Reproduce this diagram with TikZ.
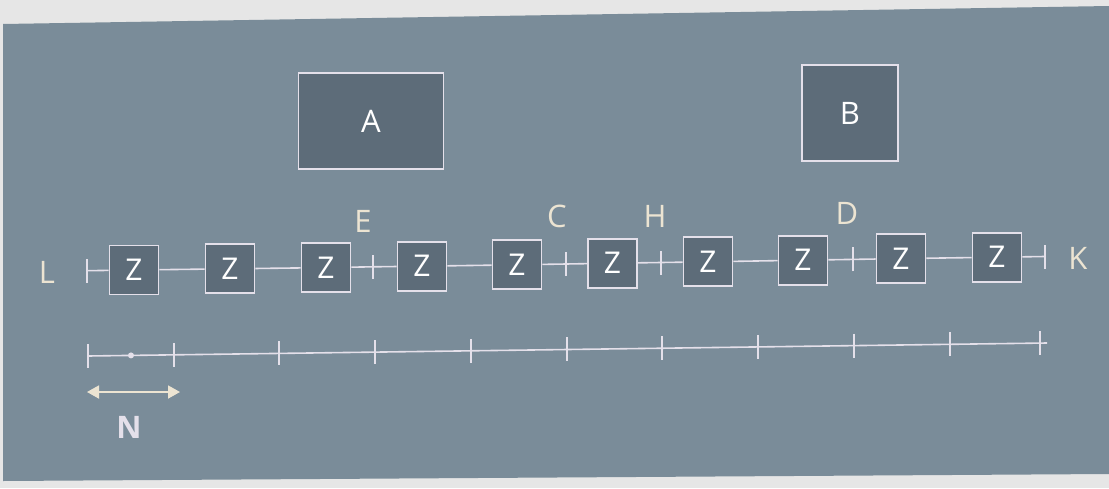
\documentclass[tikz,border=0pt]{standalone}
\usepackage{fontspec}
\setmainfont{Open Sans}
\usetikzlibrary{arrows.meta}
\definecolor{paper}{HTML}{E6E6E6}
\definecolor{panel}{HTML}{7A8C99}
\definecolor{boxfill}{HTML}{5D6C79}
\definecolor{edge}{HTML}{E4E0EA}
\definecolor{lbl}{HTML}{ECE4D2}
\tikzset{
  zbox/.style={draw=edge, line width=1.8pt, fill=boxfill, minimum width=49pt, minimum height=49pt, inner sep=0pt, text=white, font=\fontsize{30}{30}\selectfont},
  bigbox/.style={draw=edge, line width=1.8pt, fill=boxfill, inner sep=0pt, text=white, font=\fontsize{31}{31}\selectfont},
  lab/.style={text=lbl, font=\fontsize{31}{31}\selectfont, inner sep=0pt},
  wire/.style={draw=edge, line width=1.6pt},
  tick/.style={draw=edge, line width=1.6pt},
}
\begin{document}
\begin{tikzpicture}[x=1pt,y=-1pt]
\useasboundingbox (0,0) rectangle (1109,488);
\fill[paper] (0,0) rectangle (1109,488);
\fill[panel] (3,24) -- (1109,6) -- (1109,474) -- (3,481) -- cycle;

% big boxes
\node[bigbox, minimum width=145pt, minimum height=96pt] (A) at (371,121) {A};
\node[bigbox, minimum width=96pt, minimum height=96pt] (B) at (850,113) {B};

% Z chain
\node[zbox] (Z1) at (134,270) {Z};
\node[zbox] (Z2) at (230,268.8) {Z};
\node[zbox] (Z3) at (326,267.6) {Z};
\node[zbox] (Z4) at (422,266.2) {Z};
\node[zbox] (Z5) at (517,264.8) {Z};
\node[zbox] (Z6) at (612.5,263.2) {Z};
\node[zbox] (Z7) at (708,261.8) {Z};
\node[zbox] (Z8) at (803,260.2) {Z};
\node[zbox] (Z9) at (901,258.6) {Z};
\node[zbox] (Z10) at (997,257.2) {Z};

\coordinate (tL) at (87,270.7);
\coordinate (tE) at (373,266.8);
\coordinate (tC) at (566,264.0);
\coordinate (tH) at (661,262.5);
\coordinate (tD) at (853,259.4);
\coordinate (tK) at (1045,256.5);

\draw[wire] (tL) -- (Z1) -- (Z2) -- (Z3) -- (tE) -- (Z4) -- (Z5) -- (tC) -- (Z6) -- (tH) -- (Z7) -- (Z8) -- (tD) -- (Z9) -- (Z10) -- (tK);
\foreach \t in {tL,tE,tC,tH,tD,tK}
  \draw[tick] ([yshift=-12pt]\t) -- ([yshift=12pt]\t);

% labels
\node[lab] (L) at (47,272) {L};
\node[lab] (K) at (1078,258) {K};
\node[lab] (E) at (363,221) {E};
\node[lab] (C) at (557,216) {C};
\node[lab] (H) at (655,216) {H};
\node[lab] (D) at (847,213) {D};

% ruler
\coordinate (r0) at (88,356);
\coordinate (rEnd) at (1047,343);
\draw[wire] (r0) -- (rEnd);
\foreach \x in {88,174,279,375,471,567,662,758,854,950,1040}
  \draw[tick] (\x,{356-(\x-88)*0.0137-12}) -- (\x,{356-(\x-88)*0.0137+12});
\fill[edge] (131,355.4) circle (3pt);

% N arrow
\coordinate (n0) at (87,392);
\coordinate (n1) at (180,392);
\draw[draw=lbl, line width=1.8pt, {Triangle[width=13pt,length=12pt]}-{Triangle[width=13pt,length=12pt]}] (n0) -- (n1);
\node[lab, font=\fontsize{31}{31}\selectfont\bfseries, text=edge] (N) at (129,427) {N};
\end{tikzpicture}
\end{document}
